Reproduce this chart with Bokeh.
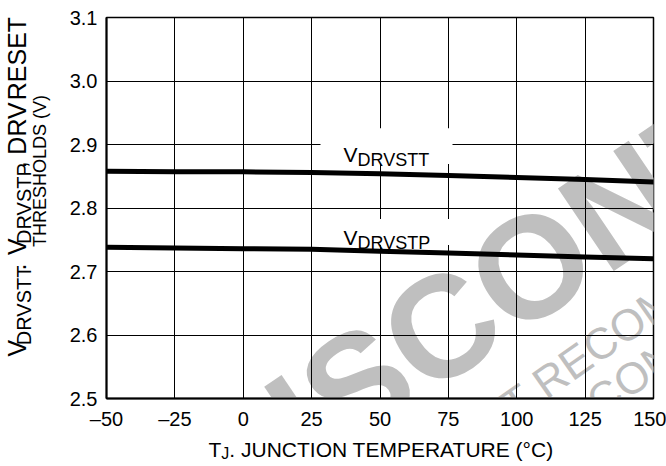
import math
from bokeh.plotting import figure
from bokeh.models import Label, BoxAnnotation, FixedTicker, Range1d
from bokeh.layouts import row, column
from bokeh.embed import file_html
from bokeh.resources import INLINE

# ---------------- data ----------------
temps = [-50, -25, 0, 25, 50, 75, 100, 125, 150]
v_drvstt = [2.858, 2.857, 2.857, 2.856, 2.854, 2.851, 2.848, 2.845, 2.841]
v_drvstp = [2.738, 2.737, 2.736, 2.735, 2.732, 2.729, 2.726, 2.723, 2.720]
x_ticks = [-50, -25, 0, 25, 50, 75, 100, 125, 150]
x_tick_labels = ["\u201350", "\u201325", "0", "25", "50", "75", "100", "125", "150"]
y_ticks = [2.5, 2.6, 2.7, 2.8, 2.9, 3.0, 3.1]
y_tick_labels = ["2.5", "2.6", "2.7", "2.8", "2.9", "3.0", "3.1"]

# ---------------- layout (page pixels) ----------------
TOTAL_W, TOTAL_H = 666, 466
LEFT_W = 56            # strip holding the rotated y title
MAIN_H = 432           # main chart height; below it a strip for the x title
FL, FR, FT, FB = 106, 653, 17, 399   # frame edges on the page
X0, X1, Y0, Y1 = -50, 150, 2.5, 3.1
FONT = "Liberation Sans"


def dx(px):
    return X0 + (px - FL) * (X1 - X0) / (FR - FL)


def dy(py):
    return Y1 - (py - FT) * (Y1 - Y0) / (FB - FT)


main_w = TOTAL_W - LEFT_W
p = figure(width=main_w, height=MAIN_H, x_range=Range1d(X0, X1), y_range=Range1d(Y0, Y1),
           output_backend="svg", toolbar_location=None,
           min_border_left=FL - LEFT_W, min_border_right=TOTAL_W - FR,
           min_border_top=FT, min_border_bottom=MAIN_H - FB)
p.background_fill_color = "white"
p.border_fill_color = "white"
p.outline_line_color = "black"
p.outline_line_width = 1.5
p.outline_line_alpha = 1.0

for ax, ticks, labels in ((p.xaxis[0], x_ticks, x_tick_labels), (p.yaxis[0], y_ticks, y_tick_labels)):
    ax.ticker = FixedTicker(ticks=ticks)
    ax.major_label_overrides = {t: l for t, l in zip(ticks, labels)}
    ax.major_tick_line_color = None
    ax.minor_tick_line_color = None
    ax.axis_line_color = "black"
    ax.axis_line_width = 2
    ax.major_label_text_font = FONT
    ax.major_label_text_font_size = "20px"
    ax.major_label_text_color = "black"
p.xaxis.major_label_standoff = 3
p.yaxis.major_label_standoff = 3

p.xgrid.ticker = FixedTicker(ticks=x_ticks)
p.ygrid.ticker = FixedTicker(ticks=y_ticks)
for g in (p.xgrid[0], p.ygrid[0]):
    g.grid_line_color = "black"
    g.grid_line_width = 1
    g.grid_line_alpha = 1.0

# ---------------- watermark (under the grid, inside the frame) ----------------
WM = "#bfbfbf"
p.add_layout(Label(x=dx(242), y=dy(560), text="DISCONTINUED", angle=math.radians(34),
                   text_font=FONT, text_font_size="145px", text_font_style="bold",
                   text_color=WM, level="image"))
wm_lines = [
    ("THIS DEVICE IS NOT RECOMMENDED FOR NEW DESIGN", 185, 665),
    ("PLEASE CONTACT YOUR ON SEMICONDUCTOR", 455, 532),
    ("REPRESENTATIVE FOR INFORMATION", 445, 600),
]
for txt, px, py in wm_lines:
    p.add_layout(Label(x=dx(px), y=dy(py), text=txt, angle=math.radians(35),
                       text_font=FONT, text_font_size="44px", text_color=WM, level="image"))

# ---------------- curves ----------------
p.line(temps, v_drvstt, line_width=5, line_color="black", line_cap="round")
p.line(temps, v_drvstp, line_width=5, line_color="black", line_cap="round")

# label backgrounds
p.add_layout(BoxAnnotation(left=dx(320), right=dx(452), top=dy(128), bottom=dy(164),
                           fill_color="white", fill_alpha=1.0, line_color=None))
p.add_layout(BoxAnnotation(left=dx(320), right=dx(452), top=dy(219), bottom=dy(245),
                           fill_color="white", fill_alpha=1.0, line_color=None))

# ---------------- rich text helpers ----------------
ADV = {" ": 450, ",": 278, ".": 278, "(": 333, ")": 333, "\u00b0": 400,
       "A": 667, "C": 722, "D": 722, "E": 667, "H": 722, "I": 278, "J": 500,
       "L": 556, "M": 833, "N": 722, "O": 778, "P": 667, "R": 722, "S": 667,
       "T": 611, "U": 722, "V": 667}


def tw(s, size):
    return sum(ADV.get(c, 556) for c in s) * size / 1000.0


def rich(fig, segments, px, py, ox=0, oy=0, frame_units=False):
    """Horizontal text pieces one after another; px, py = page pixels of the baseline start."""
    pos = 0.0
    for text, size, drop in segments:
        x = px + pos
        y = py + drop
        if frame_units:
            kw = dict(x=x - FL, y=FB - y, x_units="screen", y_units="screen")
        else:
            kw = dict(x=x - ox, y=y - oy)
        fig.add_layout(Label(text=text, text_font=FONT,
                             text_font_size=f"{size}px", text_color="black",
                             text_align="left", text_baseline="alphabetic", **kw))
        pos += tw(text.replace(" ", "\u2009") if False else text, size) if " " not in text else \
            sum((278 if c == " " else ADV.get(c, 556)) for c in text) * size / 1000.0


def rich_up(fig, segments, base_x, center_y):
    """Text rotated 90 deg (reading upwards); every piece is anchored at its own centre."""
    total = sum(tw(t, s) for t, s, _ in segments)
    pos = center_y + total / 2.0
    for text, size, drop in segments:
        w = tw(text, size)
        if text.strip():
            cy = pos - w / 2.0
            cx = base_x + drop - 0.35 * size
            fig.add_layout(Label(x=cx, y=cy, text=text, angle=math.pi / 2, text_font=FONT,
                                 text_font_size=f"{size}px", text_color="black",
                                 text_align="center", text_baseline="middle"))
        pos -= w


# curve labels
rich(p, [("V", 21, 0), ("DRVSTT", 18, 5)], 343, 155, frame_units=True)
rich(p, [("V", 21, 0), ("DRVSTP", 18, 5)], 343, 238, frame_units=True)


def text_strip(w, h):
    f = figure(width=w, height=h, x_range=Range1d(0, w), y_range=Range1d(h, 0),
               output_backend="svg", toolbar_location=None,
               x_axis_type=None, y_axis_type=None,
               min_border_left=0, min_border_right=0, min_border_top=0, min_border_bottom=0)
    f.outline_line_color = None
    f.background_fill_color = "white"
    f.border_fill_color = "white"
    f.xgrid.visible = False
    f.ygrid.visible = False
    return f


# y axis title (two rotated lines) in a strip on the left
left = text_strip(LEFT_W, MAIN_H)
rich_up(left, [("V", 25, 0), ("DRVSTT", 20, 5), (".", 25, 0), (" ", 25, 0),
               ("V", 25, 0), ("DRVSTP", 20, 5), (",", 25, 0), (" ", 25, 0),
               ("DRV", 25, 0), (" ", 25, 0), ("RESET", 25, 0)], 25, 194)
rich_up(left, [("THRESHOLDS (V)", 18, 0)], 46, 174)

# x axis title in a strip below
bottom = text_strip(TOTAL_W, TOTAL_H - MAIN_H)
rich(bottom, [("T", 21, 0), ("J", 16, 4), (". JUNCTION TEMPERATURE (\u00b0C)", 21, 0)],
     208, 449, oy=MAIN_H)

layout = column(row(left, p, spacing=0), bottom, spacing=0)
open("out.html", "w").write(file_html(layout, INLINE))
